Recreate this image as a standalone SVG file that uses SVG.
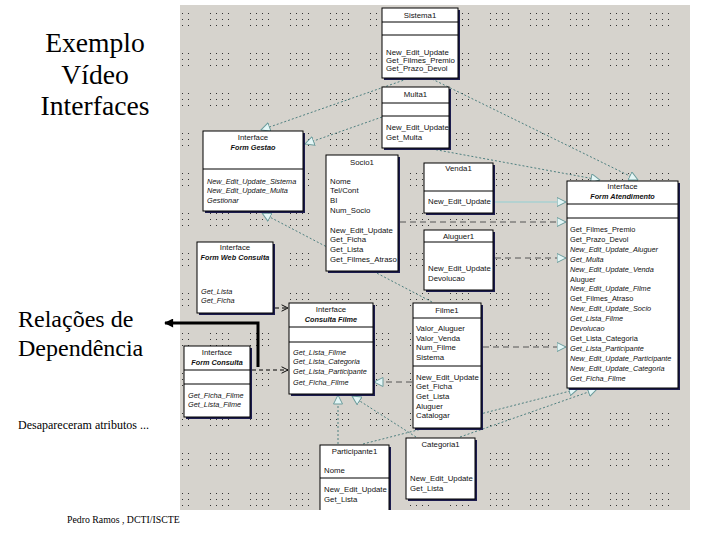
<svg xmlns="http://www.w3.org/2000/svg" width="720" height="540" viewBox="0 0 720 540">
<style>
.box{fill:#fff;stroke:#000;stroke-width:1}
.sh{fill:#1c1c4e}
.dv{stroke:#000;stroke-width:1}
.t{font-family:"Liberation Sans",Arial,sans-serif;font-size:7.8px;fill:#111}
.h{text-anchor:middle}
.b{font-weight:bold}
.i{font-style:italic;font-size:7.3px}
.ser{font-family:"Liberation Serif",Tinos,"Times New Roman","DejaVu Serif",serif;fill:#000}
.dot{stroke:#4f8080;stroke-width:1;fill:none;stroke-dasharray:2 2}
.dash{stroke:#555;stroke-width:1;fill:none;stroke-dasharray:6 4}
.dep{stroke:#000;stroke-width:1;fill:none;stroke-dasharray:4 3}
.lite{stroke:#a8d0d0;stroke-width:1.6;fill:none}
</style>
<defs>
<pattern id="dots" x="10" y="13" width="40" height="40" patternUnits="userSpaceOnUse">
<g fill="#333">
<rect x="0" y="0" width="1" height="1"/><rect x="6" y="0" width="1" height="1"/><rect x="12" y="0" width="1" height="1"/><rect x="18" y="0" width="1" height="1"/>
<rect x="0" y="6" width="1" height="1"/><rect x="6" y="6" width="1" height="1"/><rect x="12" y="6" width="1" height="1"/><rect x="18" y="6" width="1" height="1"/>
<rect x="0" y="12" width="1" height="1"/><rect x="6" y="12" width="1" height="1"/><rect x="12" y="12" width="1" height="1"/><rect x="18" y="12" width="1" height="1"/>
</g>
</pattern>
<marker id="tri" viewBox="0 0 10 10" refX="9.5" refY="5" markerWidth="10" markerHeight="10" markerUnits="userSpaceOnUse" orient="auto">
<path d="M0.5,0.5 L9.5,5 L0.5,9.5 Z" fill="#e4f6f6" stroke="#6c9c9c" stroke-width="1"/>
</marker>
<marker id="stick" viewBox="0 0 10 10" refX="9" refY="5" markerWidth="8" markerHeight="8" markerUnits="userSpaceOnUse" orient="auto">
<path d="M1,1 L9,5 L1,9" fill="none" stroke="#000" stroke-width="1.2"/>
</marker>
<marker id="bigarrow" viewBox="0 0 10 10" refX="9" refY="5" markerWidth="10" markerHeight="9" markerUnits="userSpaceOnUse" orient="auto">
<path d="M0,0 L10,5 L0,10 Z" fill="#000"/>
</marker>
<clipPath id="panelclip"><rect x="180" y="5" width="510" height="505"/></clipPath>
</defs>
<rect x="0" y="0" width="720" height="540" fill="#fff"/>
<g id="slide-text">
<text class="ser" x="95" y="52" font-size="27.6" text-anchor="middle">Exemplo</text>
<text class="ser" x="95" y="84" font-size="27.6" text-anchor="middle">Vídeo</text>
<text class="ser" x="95" y="115" font-size="27.6" text-anchor="middle">Interfaces</text>
<text class="ser" x="18" y="327" font-size="24">Relações de</text>
<text class="ser" x="18" y="356" font-size="24">Dependência</text>
<text class="ser" x="18" y="429" font-size="12">Desapareceram atributos ...</text>
<text class="ser" x="67" y="523" font-size="9.8">Pedro Ramos , DCTI/ISCTE</text>
</g>
<g id="panel" clip-path="url(#panelclip)">
<rect x="180" y="5" width="510" height="505" fill="#d6d3cd"/>
<rect x="180" y="5" width="510" height="505" fill="url(#dots)"/>
<g id="connectors">
<path class="dot" d="M407,79 L261,130" marker-end="url(#tri)"/>
<path class="dot" d="M432,79 L638,180" marker-end="url(#tri)"/>
<path class="dot" d="M382,117 L305,144" marker-end="url(#tri)"/>
<path class="dot" d="M432,149 L600,180" marker-end="url(#tri)"/>
<path class="lite" d="M495,202 L566,202" marker-end="url(#tri)"/>
<path class="dash" d="M400,222 L566,222" marker-end="url(#tri)"/>
<path class="dash" d="M495,258 L566,258" marker-end="url(#tri)"/>
<path class="dot" d="M432,302 L262,213" marker-end="url(#tri)"/>
<path class="dash" d="M483,347 L566,347" marker-end="url(#tri)"/>
<path class="dash" d="M412,382 L374,382" marker-end="url(#tri)"/>
<path class="dot" d="M338,444 L338,395" marker-end="url(#tri)"/>
<path class="dot" d="M416,437 L352,396" marker-end="url(#tri)"/>
<path class="dot" d="M363,444 L578,389" marker-end="url(#tri)"/>
<path class="dot" d="M460,437 L597,389" marker-end="url(#tri)"/>
<path class="dep" d="M275,308 L288,308" marker-end="url(#stick)"/>
<path class="dep" d="M252,370 L288,370" marker-end="url(#stick)"/>
</g>
<g id="sistema1">
<rect class="sh" x="384" y="10" width="76" height="70"/>
<rect class="box" x="382" y="8" width="76" height="70"/>
<line class="dv" x1="382" y1="22" x2="458" y2="22"/><line class="dv" x1="382" y1="35" x2="458" y2="35"/>
<text class="t h" x="420" y="18">Sistema1</text>
<text class="t" x="386" y="55">New_Edit_Update</text>
<text class="t" x="386" y="63">Get_Filmes_Premio</text>
<text class="t" x="386" y="71">Get_Prazo_Devol</text>
</g>
<g id="multa1">
<rect class="sh" x="384" y="89" width="67" height="61"/>
<rect class="box" x="382" y="87" width="67" height="61"/>
<line class="dv" x1="382" y1="103" x2="449" y2="103"/><line class="dv" x1="382" y1="116" x2="449" y2="116"/>
<text class="t h" x="415.5" y="97">Multa1</text>
<text class="t" x="386" y="130">New_Edit_Update</text>
<text class="t" x="386" y="140">Get_Multa</text>
</g>
<g id="form-gestao">
<rect class="sh" x="205" y="133" width="100" height="80"/>
<rect class="box" x="203" y="131" width="100" height="80"/>
<line class="dv" x1="203" y1="169" x2="303" y2="169"/>
<text class="t h" x="253" y="139.5">Interface</text>
<text class="t h b i" x="253" y="149.5">Form Gestao</text>
<text class="t i" x="207" y="183.5">New_Edit_Update_Sistema</text>
<text class="t i" x="207" y="193">New_Edit_Update_Multa</text>
<text class="t i" x="207" y="202.5">Gestionar</text>
</g>
<g id="socio1">
<rect class="sh" x="328" y="157" width="72" height="116"/>
<rect class="box" x="326" y="155" width="72" height="116"/>
<text class="t h" x="362" y="165">Socio1</text>
<text class="t" x="330" y="184">Nome</text>
<text class="t" x="330" y="193">Tel/Cont</text>
<text class="t" x="330" y="203">BI</text>
<text class="t" x="330" y="213">Num_Socio</text>
<text class="t" x="330" y="233">New_Edit_Update</text>
<text class="t" x="330" y="242">Get_Ficha</text>
<text class="t" x="330" y="252">Get_Lista</text>
<text class="t" x="330" y="262">Get_Filmes_Atraso</text>
</g>
<g id="venda1">
<rect class="sh" x="426" y="165" width="69" height="50"/>
<rect class="box" x="424" y="163" width="69" height="50"/>
<line class="dv" x1="424" y1="191" x2="493" y2="191"/>
<text class="t h" x="458.5" y="171">Venda1</text>
<text class="t" x="428" y="204">New_Edit_Update</text>
</g>
<g id="aluguer1">
<rect class="sh" x="426" y="232" width="69" height="60"/>
<rect class="box" x="424" y="230" width="69" height="60"/>
<line class="dv" x1="424" y1="242" x2="493" y2="242"/>
<text class="t h" x="458.5" y="239">Aluguer1</text>
<text class="t" x="428" y="271">New_Edit_Update</text>
<text class="t" x="428" y="281">Devolucao</text>
</g>
<g id="form-atendimento">
<rect class="sh" x="569" y="183" width="111" height="207"/>
<rect class="box" x="567" y="181" width="111" height="207"/>
<line class="dv" x1="567" y1="204" x2="678" y2="204"/><line class="dv" x1="567" y1="218" x2="678" y2="218"/>
<text class="t h" x="622.5" y="189">Interface</text>
<text class="t h b i" x="622.5" y="199">Form Atendimento</text>
<text class="t" x="570" y="232" style="font-size:7.4px">Get_Filmes_Premio</text>
<text class="t" x="570" y="241.9" style="font-size:7.4px">Get_Prazo_Devol</text>
<text class="t i" x="570" y="251.8">New_Edit_Update_Aluguer</text>
<text class="t i" x="570" y="261.7">Get_Multa</text>
<text class="t i" x="570" y="271.6">New_Edit_Update_Venda</text>
<text class="t" x="570" y="281.5" style="font-size:7.4px">Aluguer</text>
<text class="t i" x="570" y="291.4">New_Edit_Update_Filme</text>
<text class="t" x="570" y="301.3" style="font-size:7.4px">Get_Filmes_Atraso</text>
<text class="t i" x="570" y="311.2">New_Edit_Update_Socio</text>
<text class="t i" x="570" y="321.1">Get_Lista_Filme</text>
<text class="t i" x="570" y="331">Devolucao</text>
<text class="t" x="570" y="340.9" style="font-size:7.4px">Get_Lista_Categoria</text>
<text class="t i" x="570" y="350.8">Get_Lista_Participante</text>
<text class="t i" x="570" y="360.7">New_Edit_Update_Participante</text>
<text class="t i" x="570" y="370.6">New_Edit_Update_Categoria</text>
<text class="t i" x="570" y="380.5">Get_Ficha_Filme</text>
</g>
<g id="form-web-consulta">
<rect class="sh" x="199" y="244" width="76" height="71"/>
<rect class="box" x="197" y="242" width="76" height="71"/>
<text class="t h" x="235" y="249.5">Interface</text>
<text class="t h b i" x="235" y="260">Form Web Consulta</text>
<text class="t i" x="201" y="293.5">Get_Lista</text>
<text class="t i" x="201" y="303">Get_Ficha</text>
</g>
<g id="consulta-filme">
<rect class="sh" x="291" y="305" width="84" height="91"/>
<rect class="box" x="289" y="303" width="84" height="91"/>
<line class="dv" x1="289" y1="327" x2="373" y2="327"/><line class="dv" x1="289" y1="342" x2="373" y2="342"/>
<text class="t h" x="331" y="312">Interface</text>
<text class="t h b i" x="331" y="322">Consulta Filme</text>
<text class="t i" x="293" y="354.5">Get_Lista_Filme</text>
<text class="t i" x="293" y="364">Get_Lista_Categoria</text>
<text class="t i" x="293" y="373.5">Get_Lista_Participante</text>
<text class="t i" x="293" y="384.5">Get_Ficha_Filme</text>
</g>
<g id="form-consulta">
<rect class="sh" x="186" y="348" width="66" height="71"/>
<rect class="box" x="184" y="346" width="66" height="71"/>
<line class="dv" x1="184" y1="370" x2="250" y2="370"/><line class="dv" x1="184" y1="384" x2="250" y2="384"/>
<text class="t h" x="217" y="354.5">Interface</text>
<text class="t h b i" x="217" y="364.5">Form Consulta</text>
<text class="t i" x="188" y="398">Get_Ficha_Filme</text>
<text class="t i" x="188" y="407">Get_Lista_Filme</text>
</g>
<g id="filme1">
<rect class="sh" x="415" y="305" width="68" height="125"/>
<rect class="box" x="413" y="303" width="68" height="125"/>
<line class="dv" x1="413" y1="318" x2="481" y2="318"/><line class="dv" x1="413" y1="366" x2="481" y2="366"/>
<text class="t h" x="447" y="313">Filme1</text>
<text class="t" x="416" y="331">Valor_Aluguer</text>
<text class="t" x="416" y="340.5">Valor_Venda</text>
<text class="t" x="416" y="350">Num_Filme</text>
<text class="t" x="416" y="359.5">Sistema</text>
<text class="t" x="416" y="379.5">New_Edit_Update</text>
<text class="t" x="416" y="389">Get_Ficha</text>
<text class="t" x="416" y="399">Get_Lista</text>
<text class="t" x="416" y="408.5">Aluguer</text>
<text class="t" x="416" y="418">Catalogar</text>
</g>
<g id="categoria1">
<rect class="sh" x="408" y="440" width="69" height="61"/>
<rect class="box" x="406" y="438" width="69" height="61"/>
<text class="t h" x="440.5" y="447">Categoria1</text>
<text class="t" x="410" y="480.5">New_Edit_Update</text>
<text class="t" x="410" y="490.5">Get_Lista</text>
</g>
<g id="participante1">
<rect class="sh" x="322" y="447" width="69" height="70"/>
<rect class="box" x="320" y="445" width="69" height="70"/>
<line class="dv" x1="320" y1="478" x2="389" y2="478"/>
<text class="t h" x="354.5" y="453.5">Participante1</text>
<text class="t" x="324" y="473">Nome</text>
<text class="t" x="324" y="492">New_Edit_Update</text>
<text class="t" x="324" y="502">Get_Lista</text>
</g>
</g>
<g id="callout">
<path d="M258,367 L258,323 L165,323" fill="none" stroke="#000" stroke-width="3" marker-end="url(#bigarrow)"/>
</g>
</svg>
